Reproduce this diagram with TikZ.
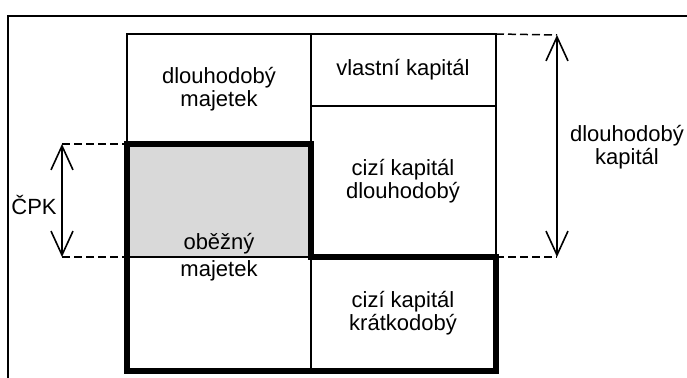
\documentclass[tikz,border=0pt]{standalone}
\usepackage{fontspec}
\setmainfont{Liberation Sans}
\usetikzlibrary{positioning,calc,arrows.meta}

\begin{document}
\begin{tikzpicture}[x=0.5pt, y=-0.5pt]
	\useasboundingbox (0,0) rectangle (687,378);
	\clip (0,0) rectangle (687,378);
	\tikzstyle{every node}=[align=center, inner sep=1pt, font=\fontsize{11}{11.5}\selectfont]
	\tikzstyle{cell}=[line width=1pt]
	\tikzstyle{heavy}=[line width=3.4pt, line join=miter]
	\tikzstyle{guide}=[line width=0.75pt, dash pattern=on 4pt off 2pt]
	\tikzstyle{span}=[line width=0.8pt, {Straight Barb[length=12pt, width=11pt]}-{Straight Barb[length=12pt, width=11pt]}]

	% frame round the whole sheet
	\draw [cell] (8,16) rectangle (720,420);

	% corners of the balance table
	\coordinate (tl) at (127,34);
	\coordinate (tm) at (311,34);
	\coordinate (tr) at (496,34);
	\coordinate (bl) at (127,371);
	\coordinate (bm) at (311,371);
	\coordinate (br) at (496,371);
	\coordinate (vkl) at (311,106);
	\coordinate (vkr) at (496,106);
	\coordinate (ckl) at (127,144);
	\coordinate (ckm) at (311,144);
	\coordinate (kl)  at (127,257);
	\coordinate (km)  at (311,257);
	\coordinate (kr)  at (496,257);

	% shaded net working capital
	\fill [black!15] (ckl) rectangle (km);

	% thin grid
	\draw [cell] (tl) rectangle (br);
	\draw [cell] (tm) -- (bm);
	\draw [cell] (vkl) -- (vkr);
	\draw [cell] (kl) -- (kr);

	% heavy outline of the current part
	\draw [heavy] (ckl) -- (ckm) -- (km) -- (kr) -- (br) -- (bl) -- cycle;

	\node (dm)  at (219,89)  {dlouhodobý\\majetek};
	\node (vk)  at (403,70)  {vlastní kapitál};
	\node (ckd) at (403,181) {cizí kapitál\\dlouhodobý};
	\node (om)  at (219,257) {oběžný\\[2pt]majetek};
	\node (ckk) at (403,313) {cizí kapitál\\krátkodobý};

	% long-term capital
	\coordinate (dkt) at (557,35);
	\coordinate (dkb) at (557,257);
	\draw [guide] (tr) -- (dkt);
	\draw [guide] (kr) -- (dkb);
	\draw [span] (dkt) -- (dkb);
	\node (dk) at (627,147) {dlouhodobý\\kapitál};

	% net working capital
	\coordinate (cpt) at (62,144);
	\coordinate (cpb) at (62,257);
	\draw [guide] (cpt) -- (ckl);
	\draw [guide] (cpb) -- (kl);
	\draw [span] (cpt) -- (cpb);
	\node [anchor=west] (cpk) at (9,205) {ČPK};
\end{tikzpicture}
\end{document}
